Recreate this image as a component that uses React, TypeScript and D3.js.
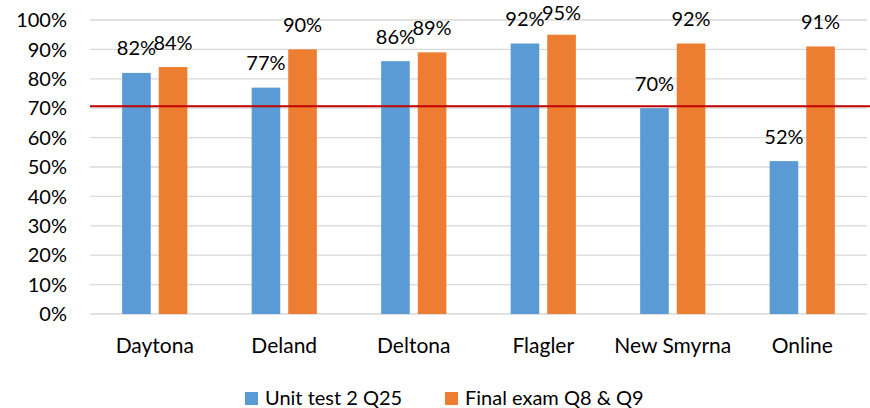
import React from "react";
import * as d3 from "d3";

const categories = ["Daytona", "Deland", "Deltona", "Flagler", "New Smyrna", "Online"];
const seriesNames = ["Unit test 2 Q25", "Final exam Q8 & Q9"];
const unitTest = [0.82, 0.77, 0.86, 0.92, 0.70, 0.52];
const finalExam = [0.84, 0.90, 0.89, 0.95, 0.92, 0.91];
const colors = ["#5b9bd5", "#ed7d31"];
const yTicks = [0, 0.1, 0.2, 0.3, 0.4, 0.5, 0.6, 0.7, 0.8, 0.9, 1.0];
const threshold = 0.707;

const W = 870;
const H = 408;
const FONT = "Lato, 'Open Sans', sans-serif";

export default function App() {
  const left = 90;
  const right = 867;
  const top = 20;
  const bottom = 314;
  const x = d3.scaleBand<string>().domain(categories).range([left, right]).paddingInner(0).paddingOuter(0);
  const y = d3.scaleLinear().domain([0, 1]).range([bottom, top]);
  const barW = 28.6;
  const gap = 8;
  const fmt = d3.format(".0%");
  const series = [unitTest, finalExam];

  return (
    <svg
      width={W}
      height={H}
      style={{ position: "absolute", left: 0, top: 0, background: "#fff" }}
      fontFamily={FONT}
    >
      <rect x={0} y={0} width={W} height={H} fill="#fff" />
      {yTicks.map((t) => (
        <g key={t}>
          <line x1={left} x2={right} y1={y(t)} y2={y(t)} stroke="#d9d9d9" strokeWidth={1.3} />
          <text x={67} y={y(t)} dy="0.36em" textAnchor="end" fontSize={20} fill="#000">
            {fmt(t)}
          </text>
        </g>
      ))}
      {categories.map((c, i) => {
        const cx = (x(c) as number) + x.bandwidth() / 2;
        return (
          <g key={c}>
            {series.map((s, j) => {
              const bx = j === 0 ? cx - gap / 2 - barW : cx + gap / 2;
              const v = s[i];
              return (
                <g key={j}>
                  <rect x={bx} y={y(v)} width={barW} height={y(0) - y(v)} fill={colors[j]} />
                  <text x={bx + barW / 2} y={Math.max(y(v) - 17.5, 20)} textAnchor="middle" fontSize={20} fill="#000">
                    {fmt(v)}
                  </text>
                </g>
              );
            })}
            <text x={cx} y={353} textAnchor="middle" fontSize={21} fill="#000">
              {c}
            </text>
          </g>
        );
      })}
      <line x1={left} x2={W} y1={y(threshold)} y2={y(threshold)} stroke="#c00000" strokeWidth={2} />
      {seriesNames.map((n, j) => {
        const lx = j === 0 ? 245 : 445;
        return (
          <g key={n}>
            <rect x={lx} y={392} width={13} height={13} fill={colors[j]} />
            <text x={lx + 20} y={405} fontSize={20} fill="#000">
              {n}
            </text>
          </g>
        );
      })}
    </svg>
  );
}
